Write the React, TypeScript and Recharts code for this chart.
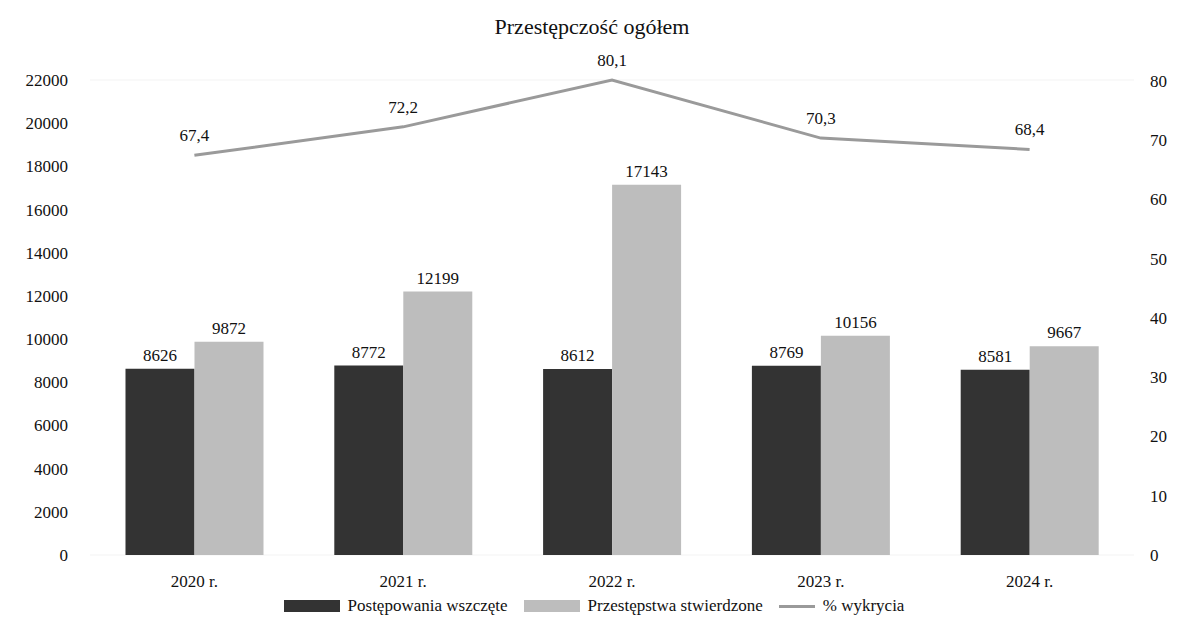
import React from 'react';
import { ComposedChart, Bar, Line, XAxis, YAxis, CartesianGrid, Legend, LabelList } from 'recharts';

const years = ['2020 r.', '2021 r.', '2022 r.', '2023 r.', '2024 r.'];
const postepowania = [8626, 8772, 8612, 8769, 8581];
const przestepstwa = [9872, 12199, 17143, 10156, 9667];
const wykrycie = [67.4, 72.2, 80.1, 70.3, 68.4];

const leftTicks = [0, 2000, 4000, 6000, 8000, 10000, 12000, 14000, 16000, 18000, 20000, 22000];
const rightTicks = [0, 10, 20, 30, 40, 50, 60, 70, 80];

const data = years.map((year, i) => ({
  year,
  postepowania: postepowania[i],
  przestepstwa: przestepstwa[i],
  wykrycie: wykrycie[i],
}));

const FONT = '"Liberation Serif", "Times New Roman", Times, "DejaVu Serif", "Noto Serif", serif';
const DARK = '#333333';
const LIGHT = '#bdbdbd';
const LINE = '#9a9a9a';

const tickStyle = { fontFamily: FONT, fontSize: 17, fill: '#111' };

function LegendContent() {
  const item = (swatch: React.ReactNode, label: string) => (
    <span style={{ display: 'inline-flex', alignItems: 'center', verticalAlign: 'middle', marginRight: 16 }}>
      {swatch}
      <span style={{ marginLeft: 8, lineHeight: '20px' }}>{label}</span>
    </span>
  );
  return (
    <div style={{ fontFamily: FONT, fontSize: 17, color: '#111', textAlign: 'center', lineHeight: '20px' }}>
      {item(<span style={{ display: 'inline-block', width: 56, height: 12, background: DARK }} />, 'Postępowania wszczęte')}
      {item(<span style={{ display: 'inline-block', width: 56, height: 12, background: LIGHT }} />, 'Przestępstwa stwierdzone')}
      {item(<span style={{ display: 'inline-block', width: 36, height: 3, background: LINE }} />, '% wykrycia')}
    </div>
  );
}

export default function App() {
  return (
    <div style={{ position: 'absolute', left: 0, top: 0, width: 1184, height: 629, background: '#fff', fontFamily: FONT }}>
      <div
        style={{
          position: 'absolute',
          top: 14,
          left: 0,
          width: 1184,
          textAlign: 'center',
          fontFamily: FONT,
          fontSize: 22,
          color: '#111',
        }}
      >
        Przestępczość ogółem
      </div>
      <ComposedChart
        width={1184}
        height={629}
        data={data}
        margin={{ top: 80, right: 0, left: 20, bottom: 6 }}
        barCategoryGap="17%"
        barGap={0}
        style={{ fontFamily: FONT }}
      >
        <CartesianGrid vertical={false} stroke="#f3f3f3" />
        <XAxis
          dataKey="year"
          axisLine={false}
          tickLine={false}
          height={40}
          tickMargin={14}
          tick={tickStyle}
        />
        <YAxis
          yAxisId="left"
          domain={[0, 22000]}
          ticks={leftTicks}
          axisLine={false}
          tickLine={false}
          width={70}
          tickMargin={16}
          tick={tickStyle}
        />
        <YAxis
          yAxisId="right"
          orientation="right"
          domain={[0, 80]}
          ticks={rightTicks}
          axisLine={false}
          tickLine={false}
          width={50}
          tickMargin={10}
          tick={tickStyle}
        />
        <Legend verticalAlign="bottom" height={28} content={<LegendContent />} />
        <Bar yAxisId="left" dataKey="postepowania" fill={DARK} isAnimationActive={false}>
          <LabelList dataKey="postepowania" position="top" offset={8} style={tickStyle} />
        </Bar>
        <Bar yAxisId="left" dataKey="przestepstwa" fill={LIGHT} isAnimationActive={false}>
          <LabelList dataKey="przestepstwa" position="top" offset={8} style={tickStyle} />
        </Bar>
        <Line
          yAxisId="right"
          dataKey="wykrycie"
          stroke={LINE}
          strokeWidth={3}
          dot={false}
          type="linear"
          isAnimationActive={false}
        >
          <LabelList
            dataKey="wykrycie"
            position="top"
            offset={14}
            formatter={(v: number) => String(v).replace('.', ',')}
            style={tickStyle}
          />
        </Line>
      </ComposedChart>
    </div>
  );
}
